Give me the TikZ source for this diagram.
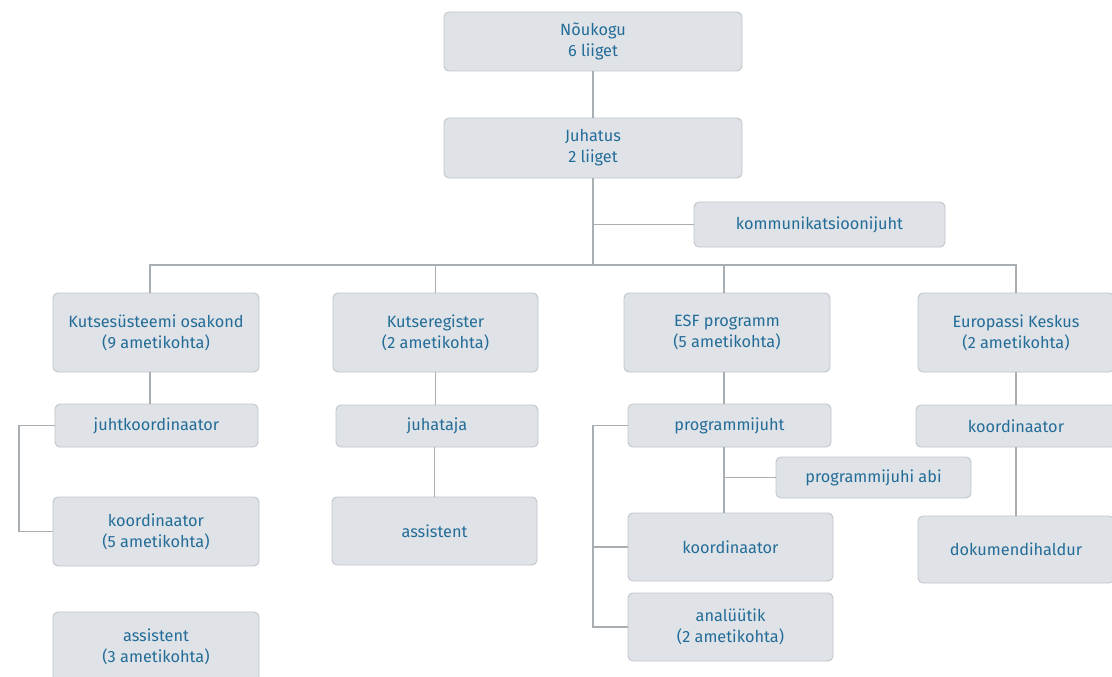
\documentclass[tikz,border=0pt]{standalone}
\usepackage{fontspec}
\setmainfont{Fira Sans}
\usetikzlibrary{calc}
\definecolor{boxfill}{HTML}{DFE3E7}
\definecolor{boxline}{HTML}{BEC4CA}
\definecolor{txtblue}{HTML}{236C98}
\definecolor{linegray}{HTML}{A9AEB3}
\tikzset{
  unit/.style={draw=boxline, line width=0.9pt, fill=boxfill, rounded corners=5pt,
    text=txtblue, align=center, inner sep=0pt, font=\fontsize{16.3}{21}\selectfont},
  link/.style={draw=linegray, line width=1.3pt}
}
\begin{document}
\begin{tikzpicture}[x=1pt, y=-1pt]
  \useasboundingbox (0,0) rectangle (1112,677);
  % top
  \node[unit, minimum width=298pt, minimum height=59pt] (nouk) at (593,41.5) {Nõukogu\\6 liiget};
  \node[unit, minimum width=298pt, minimum height=60pt] (juh) at (593,148) {Juhatus\\2 liiget};
  \node[unit, minimum width=251pt, minimum height=45pt] (komm) at (819.5,224.5) {kommunikatsioonijuht};
  \coordinate (b1) at (150,265);
  \coordinate (b4) at (1016,265);
  \coordinate (lk) at (19,0);
  \coordinate (le) at (593,0);
  \coordinate (be) at (724,0);

  % columns
  \node[unit, minimum width=206pt, minimum height=79pt] (kso) at (156,332.5) {Kutsesüsteemi osakond\\(9 ametikohta)};
  \node[unit, minimum width=203pt, minimum height=43pt] (jk) at (156.5,425.5) {juhtkoordinaator};
  \node[unit, minimum width=206pt, minimum height=69pt] (ko1) at (156,531.5) {koordinaator\\(5 ametikohta)};
  \node[unit, minimum width=206pt, minimum height=70pt] (as1) at (156,647) {assistent\\(3 ametikohta)};

  \node[unit, minimum width=205pt, minimum height=79pt] (kreg) at (435.5,332.5) {Kutseregister\\(2 ametikohta)};
  \node[unit, minimum width=202pt, minimum height=42pt] (jht) at (437,426) {juhataja};
  \node[unit, minimum width=205pt, minimum height=68pt] (as2) at (434.5,531) {assistent};

  \node[unit, minimum width=206pt, minimum height=79pt] (esf) at (727,332.5) {ESF programm\\(5 ametikohta)};
  \node[unit, minimum width=203pt, minimum height=43pt] (pj) at (729.5,425.5) {programmijuht};
  \node[unit, minimum width=195pt, minimum height=41pt] (abi) at (873.5,477.5) {programmijuhi abi};
  \node[unit, minimum width=205pt, minimum height=68pt] (ko2) at (730.5,547) {koordinaator};
  \node[unit, minimum width=205pt, minimum height=68pt] (an) at (730.5,627) {analüütik\\(2 ametikohta)};

  \node[unit, minimum width=196pt, minimum height=79pt] (eur) at (1016,332.5) {Europassi Keskus\\(2 ametikohta)};
  \node[unit, minimum width=200pt, minimum height=42pt] (ko3) at (1016,426) {koordinaator};
  \node[unit, minimum width=196pt, minimum height=67pt] (dok) at (1016,549.5) {dokumendihaldur};

  % connectors
  \draw[link] (nouk) -- (juh);
  \draw[link] (juh) -- (juh.south |- b1);
  \draw[link] (juh.south |- komm.west) -- (komm.west);
  \draw[link] (kso.north -| b1) -- (b1) -- (b4) -- (eur.north);
  \draw[link] (kreg.north |- b1) -- (kreg.north);
  \draw[link] (esf.north -| be) -- (be |- b1);

  \draw[link] (kso.south -| b1) -- (jk.north -| b1);
  \draw[link] (jk.west) -- (jk.west -| lk) |- (ko1.west);

  \draw[link] (kreg) -- (kreg.south |- jht.north);
  \draw[link] (as2.north |- jht.south) -- (as2.north);

  \draw[link] (esf.south -| be) -- (pj.north -| be);
  \draw[link] (pj.south -| be) -- (ko2.north -| be);
  \draw[link] (be |- abi.west) -- (abi.west);
  \draw[link] (pj.west) -- (pj.west -| le) |- (an.west);
  \draw[link] (ko2.west -| le) -- (ko2.west);

  \draw[link] (eur) -- (ko3);
  \draw[link] (ko3) -- (dok);
\end{tikzpicture}
\end{document}
